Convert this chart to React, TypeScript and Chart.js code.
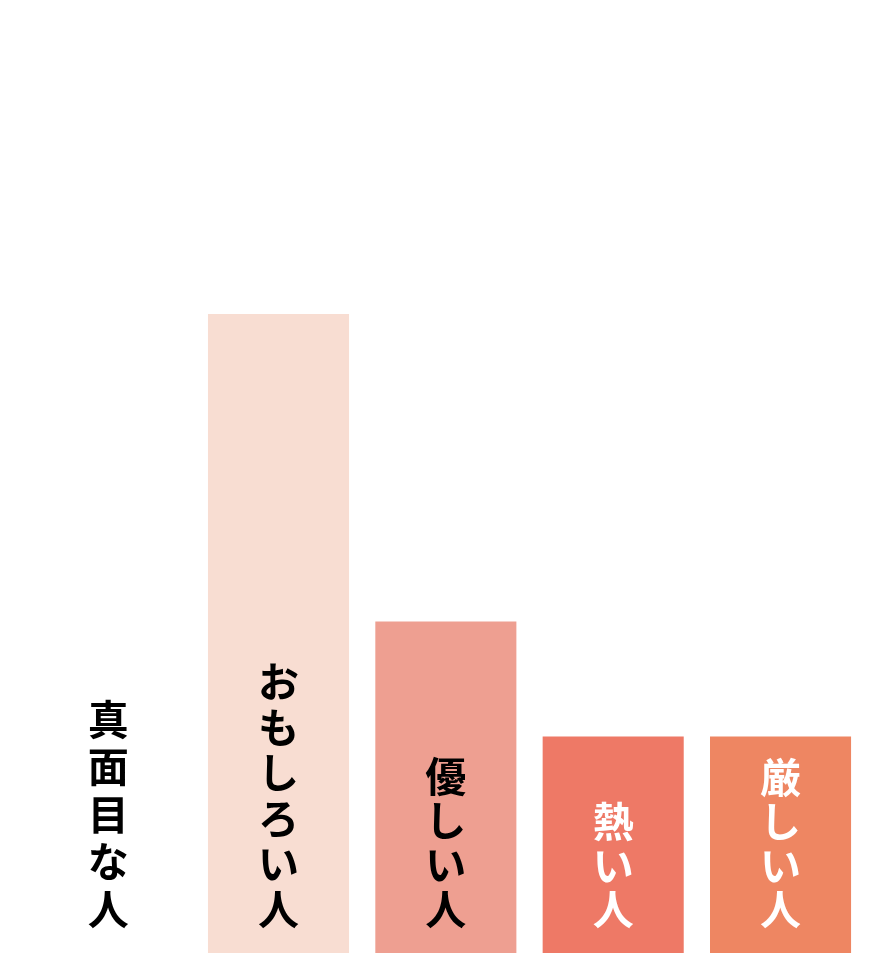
import React, { useRef, useEffect } from "react";
import { Chart, registerables, Plugin } from "chart.js";

Chart.register(...registerables);

// ranking of "what kind of person" — first bar is drawn in white
const categories = ["真面目な人", "おもしろい人", "優しい人", "熱い人", "厳しい人"];
const values = [44, 29.5, 15.3, 10, 10];
const barColors = ["#ffffff", "#F8DDD2", "#EE9F91", "#EE7966", "#EE8662"];
const labelColors = ["#000000", "#000000", "#000000", "#ffffff", "#ffffff"];
const labelPitch = [47.5, 45.5, 44.3, 44, 44];

// stacks each category name vertically inside its bar, bottom aligned
const verticalLabels: Plugin<"bar"> = {
  id: "verticalLabels",
  afterDatasetsDraw(chart) {
    const { ctx } = chart;
    const meta = chart.getDatasetMeta(0);
    const base = chart.scales.y.getPixelForValue(0);
    ctx.save();
    ctx.font = 'bold 41px "Noto Sans CJK JP", "Noto Sans", sans-serif';
    ctx.textAlign = "center";
    ctx.textBaseline = "middle";
    meta.data.forEach((bar, i) => {
      const chars = Array.from(categories[i]);
      const n = chars.length;
      ctx.fillStyle = labelColors[i];
      chars.forEach((ch, j) => {
        const y = base - 44 - (n - 1 - j) * labelPitch[i];
        ctx.fillText(ch, bar.x - (i === 0 ? 3 : 0), y);
      });
    });
    ctx.restore();
  },
};

const App: React.FC = () => {
  const canvasRef = useRef<HTMLCanvasElement | null>(null);

  useEffect(() => {
    if (!canvasRef.current) return;
    const chart = new Chart(canvasRef.current, {
      type: "bar",
      data: {
        labels: categories,
        datasets: [
          {
            data: values,
            backgroundColor: barColors,
            borderWidth: 0,
            categoryPercentage: 1,
            barPercentage: 0.843,
          },
        ],
      },
      options: {
        animation: false,
        responsive: true,
        maintainAspectRatio: false,
        layout: { padding: { left: 27.5, right: 27.8, top: 0, bottom: 3 } },
        plugins: {
          legend: { display: false },
          tooltip: { enabled: false },
        },
        scales: {
          x: { display: false },
          y: { display: false, min: 0, max: 44 },
        },
      },
      plugins: [verticalLabels],
    });

    return () => chart.destroy();
  }, []);

  return (
    <div style={{ position: "absolute", left: 0, top: 0, width: 892, height: 956, background: "#fff" }}>
      <canvas ref={canvasRef} />
    </div>
  );
};

export default App;
